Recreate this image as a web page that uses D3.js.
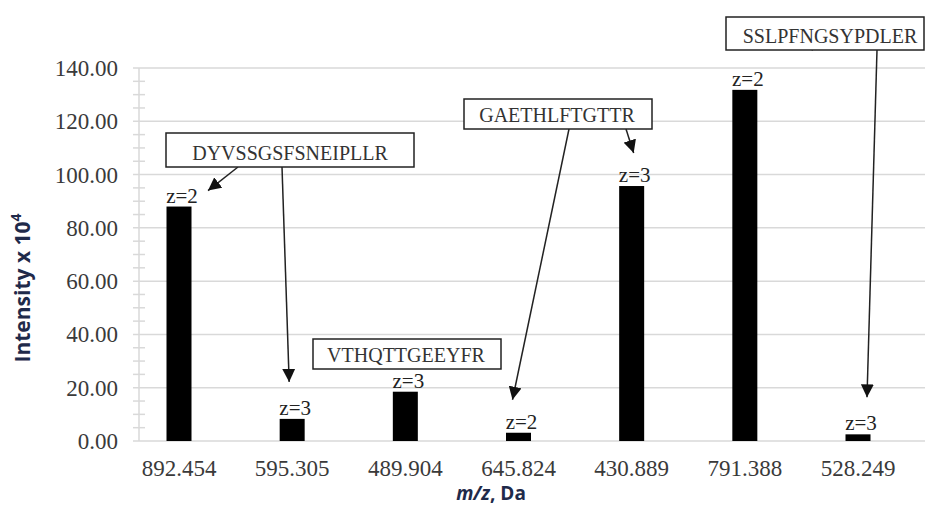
<!DOCTYPE html>
<html><head><meta charset="utf-8">
<script src="https://cdn.jsdelivr.net/npm/d3@7"></script>
<style>body{margin:0;background:#fff;} svg{display:block;}</style>
</head><body>
<svg id="c" width="925" height="509"></svg>
<script>
const categories = ["892.454","595.305","489.904","645.824","430.889","791.388","528.249"];
const intensity = [88.0, 8.3, 18.5, 3.1, 95.7, 131.8, 2.5];
const charges = ["z=2","z=3","z=3","z=2","z=3","z=2","z=3"];
const yTicks = [0,20,40,60,80,100,120,140];
const peptides = ["DYVSSGSFSNEIPLLR","GAETHLFTGTTR","SSLPFNGSYPDLER","VTHQTTGEEYFR"];
// which bars each peptide box points to
const peptideTargets = [[0,1],[4,3],[5,6],[]];

const svg = d3.select("#c");
const W = 925, H = 509;
const y = d3.scaleLinear().domain([0,140]).range([441,68]);
const x = d3.scalePoint().domain(categories).range([179,858]);
const barW = 25;
const axisX = 139;
const gridColor = "#d9d9d9";
const textColor = "#3a3a3a";

// gridlines
svg.append("g").selectAll("line").data(yTicks).join("line")
  .attr("x1", axisX-6).attr("x2", W).attr("y1", d=>y(d)).attr("y2", d=>y(d))
  .attr("stroke", gridColor).attr("stroke-width", 1.5);
// y axis line + minor ticks
svg.append("line").attr("x1",axisX).attr("x2",axisX).attr("y1",y(140)).attr("y2",y(0))
  .attr("stroke",gridColor).attr("stroke-width",1.5);
svg.append("g").selectAll("line").data(d3.range(0,141,5).filter(v=>v%20!==0)).join("line")
  .attr("x1",axisX-6).attr("x2",axisX+6).attr("y1",d=>y(d)).attr("y2",d=>y(d))
  .attr("stroke",gridColor).attr("stroke-width",1.5);

// y tick labels
svg.append("g").selectAll("text").data(yTicks).join("text")
  .attr("x",118).attr("y",d=>y(d)+8)
  .attr("text-anchor","end")
  .attr("font-family","Liberation Serif, Times New Roman, serif")
  .attr("font-size",23).attr("fill",textColor)
  .text(d=>d3.format(".2f")(d));

// x tick labels
svg.append("g").selectAll("text").data(categories).join("text")
  .attr("x",d=>x(d)).attr("y",476)
  .attr("text-anchor","middle")
  .attr("font-family","Liberation Serif, Times New Roman, serif")
  .attr("font-size",23).attr("fill",textColor)
  .text(d=>d);

// bars
svg.append("g").selectAll("rect").data(categories).join("rect")
  .attr("x",d=>x(d)-barW/2).attr("width",barW)
  .attr("y",(d,i)=>y(intensity[i])).attr("height",(d,i)=>y(0)-y(intensity[i]))
  .attr("fill","#000");

// charge labels
svg.append("g").selectAll("text").data(categories).join("text")
  .attr("x",d=>x(d)+3).attr("y",(d,i)=>y(intensity[i])-4)
  .attr("text-anchor","middle")
  .attr("font-family","Liberation Serif, Times New Roman, serif")
  .attr("font-size",21).attr("fill","#222")
  .text((d,i)=>charges[i]);

// annotation boxes (layout)
const boxes = [
  {x0:166,x1:414,y0:133,y1:167,tx:290,starts:[238,282]},
  {x0:464,x1:652,y0:99,y1:129,tx:557,starts:[626,569]},
  {x0:726,x1:924,y0:17,y1:50,tx:830,starts:[813,877]},
  {x0:313,x1:501,y0:339,y1:369,tx:406,starts:[]}
];
// arrow tip offsets relative to bar center / bar top
const tipOffsets = [[[29,16],[-3,37]],[[2,33],[-6,33]],[[25,59],[9,37]],[]];

const defs = svg.append("defs");
defs.append("marker").attr("id","ah").attr("viewBox","0 0 10 10")
  .attr("refX",10).attr("refY",5).attr("markerWidth",13).attr("markerHeight",13)
  .attr("markerUnits","userSpaceOnUse").attr("orient","auto")
  .append("path").attr("d","M0,0 L10,5 L0,10 z").attr("fill","#111");

peptides.forEach((p,k)=>{
  const b = boxes[k];
  peptideTargets[k].forEach((ti,j)=>{
    const cx = x(categories[ti]) + tipOffsets[k][j][0];
    const cy = y(intensity[ti]) - tipOffsets[k][j][1];
    svg.append("line").attr("x1",b.starts[j]).attr("y1",b.y1)
      .attr("x2",cx).attr("y2",cy)
      .attr("stroke","#222").attr("stroke-width",1.5)
      .attr("marker-end","url(#ah)");
  });
  svg.append("rect").attr("x",b.x0).attr("y",b.y0).attr("width",b.x1-b.x0).attr("height",b.y1-b.y0)
    .attr("fill","#fff").attr("stroke","#222").attr("stroke-width",1.5);
  svg.append("text").attr("x",b.tx).attr("y",b.y1-7)
    .attr("text-anchor","middle")
    .attr("font-family","Liberation Serif, Times New Roman, serif")
    .attr("font-size",20).attr("fill","#333").text(p);
});

// axis titles
const yt = svg.append("text")
  .attr("transform","translate(30,288) rotate(-90)")
  .attr("text-anchor","middle")
  .attr("font-family","Open Sans, Liberation Sans, sans-serif")
  .attr("font-weight","bold").attr("font-size",21).attr("fill","#1f2a4a");
yt.append("tspan").text("Intensity x 10");
yt.append("tspan").attr("dy",-9).attr("font-size",14).text("4");

const xt = svg.append("text").attr("x",491).attr("y",500)
  .attr("text-anchor","middle")
  .attr("font-family","Open Sans, Liberation Sans, sans-serif")
  .attr("font-weight","bold").attr("font-size",19).attr("fill","#1f2a4a");
xt.append("tspan").attr("font-style","italic").text("m/z");
xt.append("tspan").text(", Da");
</script>
</body></html>
